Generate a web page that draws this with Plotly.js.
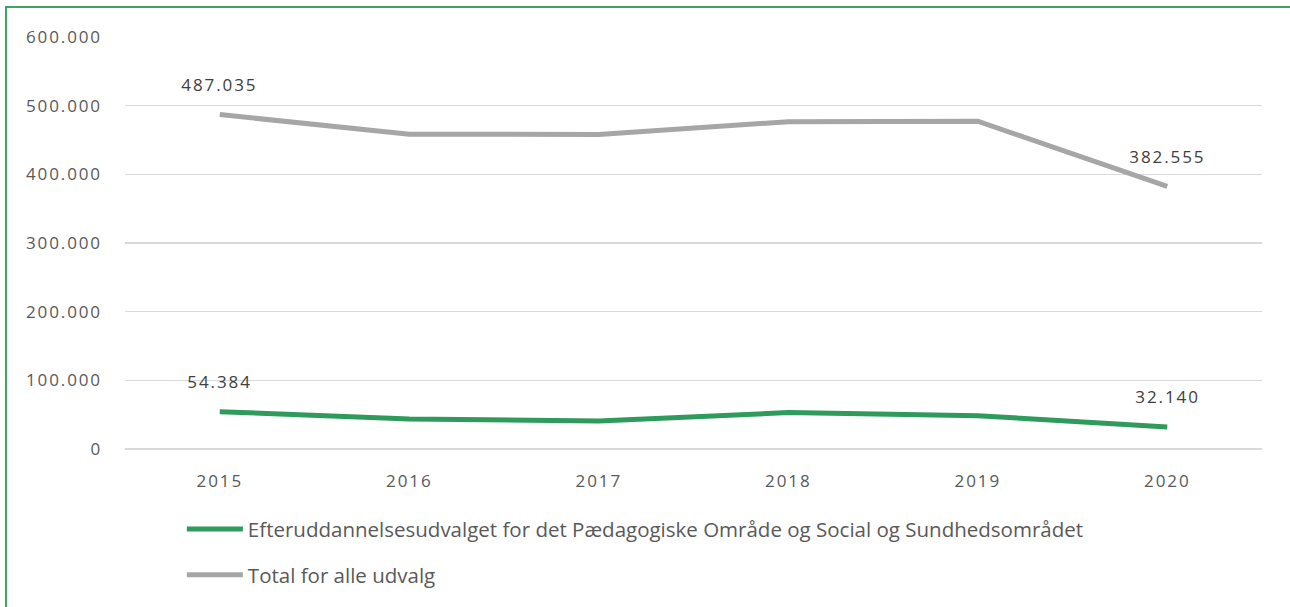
<!DOCTYPE html>
<html>
<head>
<meta charset="utf-8">
<script src="https://cdn.plot.ly/plotly-3.0.1.min.js"></script>
<style>
  html, body { margin: 0; padding: 0; background: #fff; overflow: hidden; }
  #chart { position: absolute; left: 0; top: 0; width: 1290px; height: 607px; }
  #frame { position: absolute; left: 5px; top: 6px; width: 1400px; height: 700px;
           border-left: 2px solid #3fa463; border-top: 2px solid #3fa463; pointer-events: none; }
  #chart .ytick text, #chart .xtick text, #chart .annotation-text { letter-spacing: 1.9px; }
</style>
</head>
<body>
<div id="chart"></div>
<div id="frame"></div>
<script>
const years = ['2015', '2016', '2017', '2018', '2019', '2020'];
const seriesNames = [
  'Efteruddannelsesudvalget for det Pædagogiske Område og Social og Sundhedsområdet',
  'Total for alle udvalg'
];
const efterValues = [54384, 43700, 40800, 53000, 48500, 32140];
const totalValues = [487035, 458300, 458100, 476600, 477300, 382555];
const seriesColors = ['#2e9a5c', '#a6a6a6'];
const yTicks = [0, 100000, 200000, 300000, 400000, 500000, 600000];

function fmt(n) {
  return String(Math.round(n)).replace(/\B(?=(\d{3})+(?!\d))/g, '.');
}

const fontFam = '"Open Sans", Lato, sans-serif';
const txtColor = '#595959';

const traces = [
  { x: years, y: efterValues, name: seriesNames[0], type: 'scatter', mode: 'lines',
    line: { color: seriesColors[0], width: 5, shape: 'linear' }, legendgroup: 'a', hoverinfo: 'x+y' },
  { x: years, y: totalValues, name: seriesNames[1], type: 'scatter', mode: 'lines',
    line: { color: seriesColors[1], width: 5, shape: 'linear' }, legendgroup: 'b', hoverinfo: 'x+y' }
];

const labelled = [0, years.length - 1];
const annotations = [];
[efterValues, totalValues].forEach(vals => {
  labelled.forEach(i => {
    annotations.push({ x: i, y: vals[i], xref: 'x', yref: 'y', text: fmt(vals[i]),
      showarrow: false, yshift: 30, font: { family: fontFam, size: 17, color: '#404040' } });
  });
});

const layout = {
  width: 1290, height: 607,
  margin: { l: 125, r: 28, t: 37, b: 158, autoexpand: false },
  paper_bgcolor: '#ffffff', plot_bgcolor: '#ffffff',
  separators: ',.',
  font: { family: fontFam, color: txtColor, size: 17 },
  showlegend: true,
  legend: { orientation: 'v', x: 0.050, xanchor: 'left', y: -0.146, yanchor: 'top',
    font: { family: fontFam, size: 20.5, color: txtColor }, tracegroupgap: 16, traceorder: 'grouped',
    itemwidth: 56 },
  xaxis: { type: 'category', range: [-0.5, 5.5], showgrid: false, zeroline: false, automargin: false,
    showline: false, ticks: '', ticklabelstandoff: 20, tickfont: { family: fontFam, size: 17, color: txtColor } },
  yaxis: { range: [0, 600000], tickvals: yTicks, ticktext: yTicks.map(fmt), showgrid: true, automargin: false,
    gridcolor: '#d9d9d9', gridwidth: 1.3, zeroline: true, zerolinecolor: '#d9d9d9', zerolinewidth: 1.3,
    showline: false, ticks: '', ticklabelstandoff: 22, tickfont: { family: fontFam, size: 17, color: txtColor } },
  annotations: annotations
};

Plotly.newPlot('chart', traces, layout, { displayModeBar: false, staticPlot: true });
</script>
</body>
</html>
